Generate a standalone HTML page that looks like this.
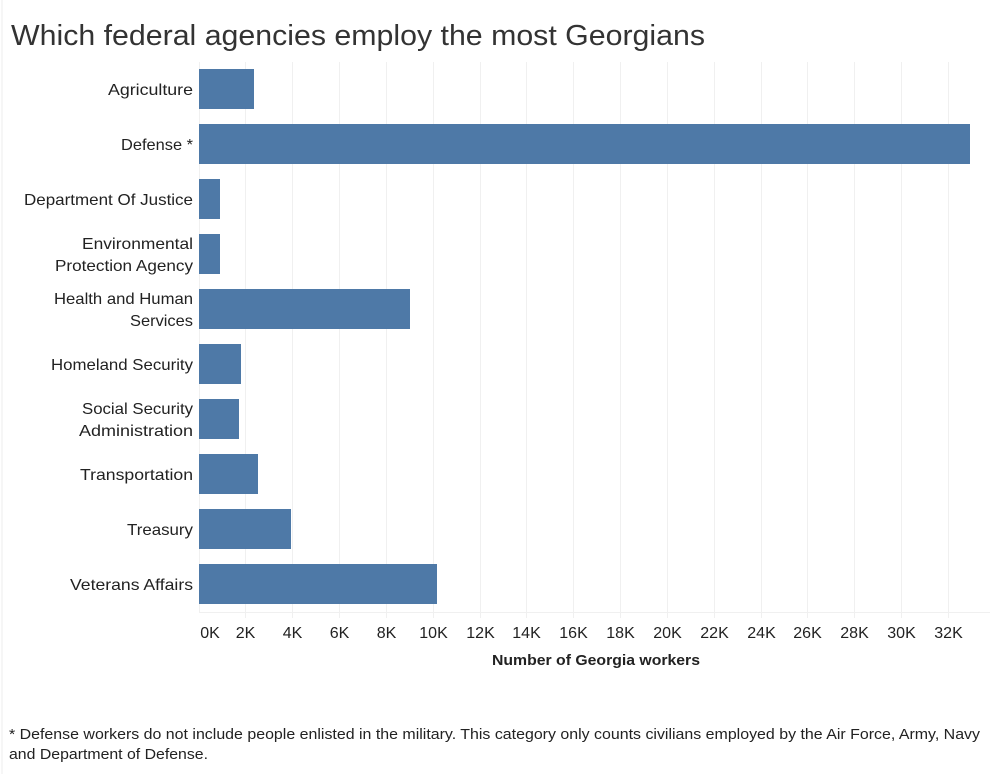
<!DOCTYPE html>
<html><head><meta charset="utf-8"><style>
body{margin:0;background:#fff;width:997px;height:774px;overflow:hidden;font-family:"Liberation Sans",sans-serif;}
</style></head><body>
<svg width="997" height="774" xmlns="http://www.w3.org/2000/svg" font-family="Liberation Sans, sans-serif">
<line x1="2" y1="0" x2="2" y2="774" stroke="#eee"/>
<text x="11" y="45" font-size="29" fill="#333" textLength="694" lengthAdjust="spacingAndGlyphs">Which federal agencies employ the most Georgians</text>
<g stroke="#f0f0f0" stroke-width="1">
<line x1="199.5" y1="62" x2="199.5" y2="612"/><line x1="245.5" y1="62" x2="245.5" y2="618"/><line x1="292.5" y1="62" x2="292.5" y2="618"/><line x1="339.5" y1="62" x2="339.5" y2="618"/><line x1="386.5" y1="62" x2="386.5" y2="618"/><line x1="433.5" y1="62" x2="433.5" y2="618"/><line x1="480.5" y1="62" x2="480.5" y2="618"/><line x1="526.5" y1="62" x2="526.5" y2="618"/><line x1="573.5" y1="62" x2="573.5" y2="618"/><line x1="620.5" y1="62" x2="620.5" y2="618"/><line x1="667.5" y1="62" x2="667.5" y2="618"/><line x1="714.5" y1="62" x2="714.5" y2="618"/><line x1="761.5" y1="62" x2="761.5" y2="618"/><line x1="807.5" y1="62" x2="807.5" y2="618"/><line x1="854.5" y1="62" x2="854.5" y2="618"/><line x1="901.5" y1="62" x2="901.5" y2="618"/><line x1="948.5" y1="62" x2="948.5" y2="618"/>
<line x1="199" y1="612.5" x2="990" y2="612.5"/>
</g>
<g fill="#4e79a7">
<rect x="199" y="69" width="55" height="40"/>
<rect x="199" y="124" width="771" height="40"/>
<rect x="199" y="179" width="21" height="40"/>
<rect x="199" y="234" width="21" height="40"/>
<rect x="199" y="289" width="211" height="40"/>
<rect x="199" y="344" width="42" height="40"/>
<rect x="199" y="399" width="40" height="40"/>
<rect x="199" y="454" width="59" height="40"/>
<rect x="199" y="509" width="92" height="40"/>
<rect x="199" y="564" width="238" height="40"/>
</g>
<g font-size="16" fill="#222" text-anchor="end" lengthAdjust="spacingAndGlyphs">
<text x="193" y="95" textLength="85" lengthAdjust="spacingAndGlyphs">Agriculture</text>
<text x="193" y="150" textLength="72" lengthAdjust="spacingAndGlyphs">Defense *</text>
<text x="193" y="205" textLength="169" lengthAdjust="spacingAndGlyphs">Department Of Justice</text>
<text x="193" y="249" textLength="111" lengthAdjust="spacingAndGlyphs">Environmental</text><text x="193" y="271" textLength="138" lengthAdjust="spacingAndGlyphs">Protection Agency</text>
<text x="193" y="304" textLength="139" lengthAdjust="spacingAndGlyphs">Health and Human</text><text x="193" y="326" textLength="63" lengthAdjust="spacingAndGlyphs">Services</text>
<text x="193" y="370" textLength="142" lengthAdjust="spacingAndGlyphs">Homeland Security</text>
<text x="193" y="414" textLength="111" lengthAdjust="spacingAndGlyphs">Social Security</text><text x="193" y="436" textLength="114" lengthAdjust="spacingAndGlyphs">Administration</text>
<text x="193" y="480" textLength="113" lengthAdjust="spacingAndGlyphs">Transportation</text>
<text x="193" y="535" textLength="66" lengthAdjust="spacingAndGlyphs">Treasury</text>
<text x="193" y="590" textLength="123" lengthAdjust="spacingAndGlyphs">Veterans Affairs</text>
</g>
<g font-size="16" fill="#222" text-anchor="middle">
<text x="210" y="638">0K</text><text x="245.5" y="638">2K</text><text x="292.5" y="638">4K</text><text x="339.5" y="638">6K</text><text x="386.5" y="638">8K</text><text x="433.5" y="638">10K</text><text x="480.5" y="638">12K</text><text x="526.5" y="638">14K</text><text x="573.5" y="638">16K</text><text x="620.5" y="638">18K</text><text x="667.5" y="638">20K</text><text x="714.5" y="638">22K</text><text x="761.5" y="638">24K</text><text x="807.5" y="638">26K</text><text x="854.5" y="638">28K</text><text x="901.5" y="638">30K</text><text x="948.5" y="638">32K</text>
</g>
<text x="492" y="665" font-size="15" font-weight="bold" fill="#222" textLength="208" lengthAdjust="spacingAndGlyphs">Number of Georgia workers</text>
<g font-size="15" fill="#222">
<text x="9" y="739" textLength="971" lengthAdjust="spacingAndGlyphs">* Defense workers do not include people enlisted in the military. This category only counts civilians employed  by the Air Force, Army, Navy</text>
<text x="9" y="759" textLength="199" lengthAdjust="spacingAndGlyphs">and Department of Defense.</text>
</g>
</svg>
</body></html>
